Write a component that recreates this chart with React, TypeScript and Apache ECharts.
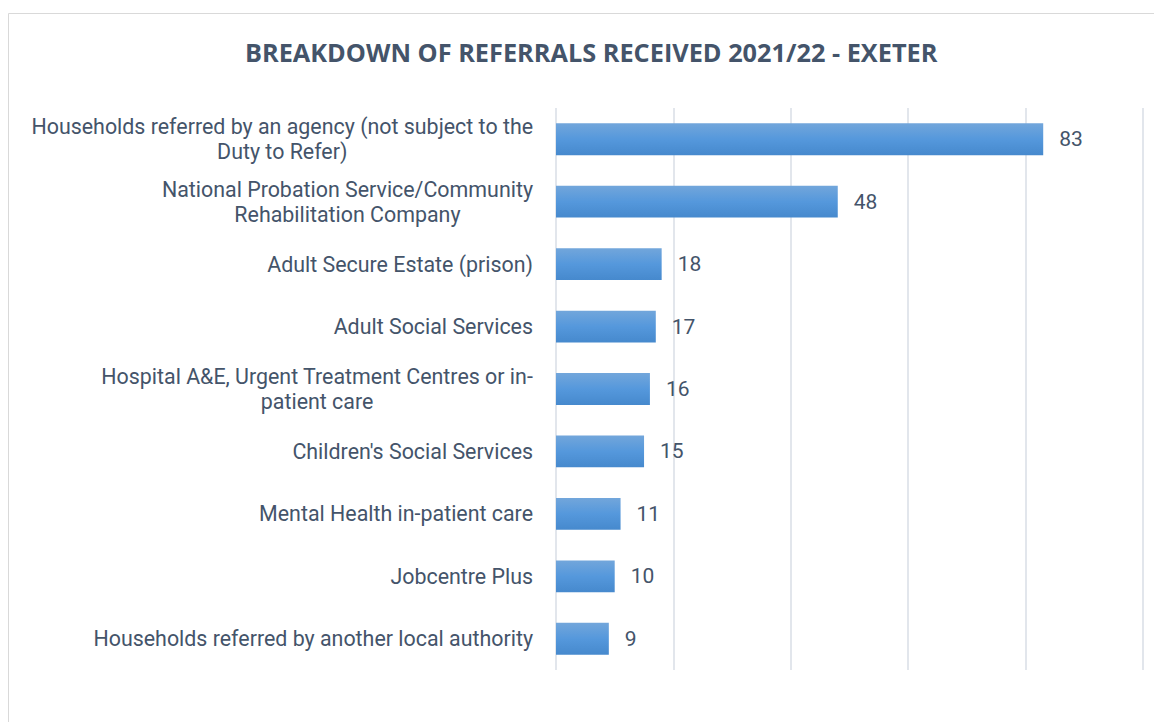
import React, { useEffect, useRef } from "react";
import * as echarts from "echarts";

const titleText = "BREAKDOWN OF REFERRALS RECEIVED 2021/22 - EXETER";
const categories = [
  "Households referred by an agency (not subject to the\nDuty to Refer)",
  "National Probation Service/Community\nRehabilitation Company",
  "Adult Secure Estate (prison)",
  "Adult Social Services",
  "Hospital A&E, Urgent Treatment Centres or in-\npatient care",
  "Children's Social Services",
  "Mental Health in-patient care",
  "Jobcentre Plus",
  "Households referred by another local authority",
];
const values = [83, 48, 18, 17, 16, 15, 11, 10, 9];

const TITLE_FONT = "Open Sans";
const FONT = "Roboto";
const TEXT = "#44546A";

export default function App() {
  const ref = useRef<HTMLDivElement>(null);
  useEffect(() => {
    if (!ref.current) return;
    const chart = echarts.init(ref.current, undefined, { renderer: "svg" });
    chart.setOption({
      animation: false,
      backgroundColor: "#ffffff",
      title: {
        text: titleText,
        left: 232,
        top: 26,
        padding: 5,
        textStyle: { fontFamily: TITLE_FONT, fontWeight: "bold", fontSize: 25.3, color: TEXT },
      },
      graphic: [
        {
          type: "rect",
          shape: { x: 0.5, y: 5.5, width: 1200, height: 800 },
          style: { fill: "none", stroke: "#D9D9D9", lineWidth: 1 },
          silent: true,
        },
      ],
      grid: { left: 548, right: 19, top: 100, bottom: 52, containLabel: false },
      xAxis: {
        type: "value",
        min: 0,
        max: 100,
        interval: 20,
        axisLabel: { show: false },
        axisLine: { show: false },
        axisTick: { show: false },
        splitLine: { show: true, lineStyle: { color: "#D9DEE6", width: 1.5 } },
      },
      yAxis: {
        type: "category",
        inverse: true,
        data: categories,
        axisLine: { show: false },
        axisTick: { show: false },
        axisLabel: {
          margin: 23,
          formatter: (v: string) =>
            v
              .split("\n")
              .map((s) => "{c|" + s + "}")
              .join("\n"),
          rich: {
            c: { align: "center", fontFamily: FONT, fontSize: 21.4, color: TEXT, lineHeight: 25.2 },
          },
        },
      },
      series: [
        {
          type: "bar",
          data: values,
          barCategoryGap: "49%",
          itemStyle: {
            color: new echarts.graphic.LinearGradient(0, 0, 0, 1, [
              { offset: 0, color: "#72A6DB" },
              { offset: 0.5, color: "#5598DC" },
              { offset: 1, color: "#4689CD" },
            ]),
          },
          label: {
            show: true,
            position: "right",
            distance: 16,
            fontFamily: FONT,
            fontSize: 21,
            color: TEXT,
          },
        },
      ],
    });
    return () => chart.dispose();
  }, []);
  return <div ref={ref} style={{ width: 1154, height: 714 }} />;
}
